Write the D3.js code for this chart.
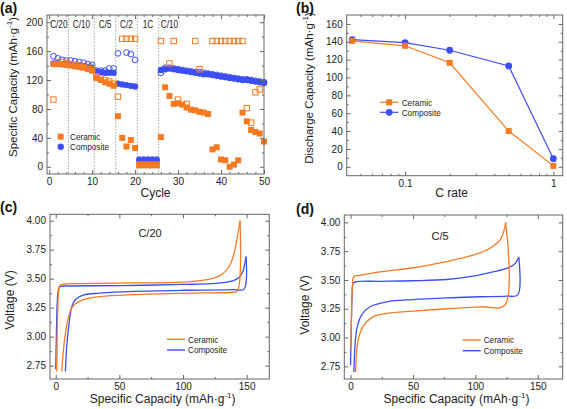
<!DOCTYPE html>
<html><head><meta charset="utf-8">
<script src="https://cdn.jsdelivr.net/npm/d3@7"></script>
<style>body{margin:0;background:#fff}svg{display:block;font-family:"Liberation Sans",Arial,sans-serif}</style>
</head><body><svg id="c" width="567" height="409"></svg>
<script>
// ---------- DATA ----------
// (a) cycling
const cycles = [1,2,3,4,5,6,7,8,9,10,11,12,13,14,15,16,17,18,19,20,21,22,23,24,25,26,27,28,29,30,31,32,33,34,35,36,37,38,39,40,41,42,43,44,45,46,47,48,49,50];
const ceramicDischarge = [142,142,142,141, 140,139,138,137,135,133, 123,120,117,115,112, 70,40,28,37,26, 2,2,2,2,2,
  41,110,98,87,88,86,82,79,78,76,75,73, 24,27,10,9,0,3,9, 75,63,51,48,46,35];
const ceramicCharge = [93,145,145,144, 142,141,140,138,137,135, 125,122,120,118,115, 97,177,177,177,177, 3,3,3,3,3,
  174,null,143,174,93,null,87,null,174,135,null,null, 174,174,174,174,174,174,174, 174,81,61,103,107,null];
const compositeDischarge = [143,143,142,142, 141,140,140,139,138,137, 132,131,130,130,130, 115,114,113,112,111, 9,9,9,9,9,
  134,135,136,135,134,133,132,131,130,129,128,128, 127,126,125,124,123,122,121, 120,120,119,118,117,116];
const compositeCharge = [153,150,148,147, 147,146,145,144,142,141, 133,133,133,136,136, 157,null,158,156,148, 10,10,10,10,10,
  130,137,137,136,135,134,133,132,131,131,130,129, 128,127,126,125,124,123,122, 121,121,120,119,118,117];
const rateBounds = [4.5,10.5,15.5,20.5,25.5];
const rateLabels = ["C/20","C/10","C/5","C/2","1C","C/10"];
const rateLabelCycles = [2.25,7.5,13,18,23,26];
const aXTicks = [0,10,20,30,40,50];
const aYTicks = [0,40,80,120,160,200];

// (b) rate capability
const cRates = [0.044,0.1,0.2,0.5,1];
const ceramicRate = [141,135.5,116.5,40,1];
const compositeRate = [142.5,139,130.5,113,9];
const bXTicks = [0.1,1];
const bYTicks = [0,20,40,60,80,100,120,140,160];

// (c) C/20 voltage profiles [capacity, voltage]
const ceramicC20Charge = [[0.8,2.70],[1.0,2.9],[1.5,3.2],[2.2,3.38],[3.2,3.44],[6,3.452],[20,3.457],[60,3.463],[99,3.47],[115,3.485],[124,3.505],[131,3.54],[137,3.62],[140.8,3.75],[143.3,3.9],[144.8,4.0]];
const ceramicC20Discharge = [[144.8,4.0],[142.8,3.395],[139,3.383],[120,3.378],[99,3.374],[61,3.362],[35,3.345],[22,3.32],[14,3.27],[11.3,3.215],[9,3.12],[7,2.98],[5.8,2.85],[4.7,2.70]];
const compositeC20Charge = [[0,2.72],[0.5,3.0],[1.2,3.3],[2.2,3.41],[3.5,3.432],[10,3.437],[50,3.44],[99,3.45],[126,3.46],[139,3.48],[144,3.51],[147,3.56],[148.5,3.63],[149.5,3.69]];
const compositeC20Discharge = [[149.5,3.69],[148,3.41],[140,3.405],[100,3.40],[61,3.39],[35,3.375],[22,3.36],[15.5,3.32],[12.7,3.26],[10.8,3.14],[8.8,2.94],[7.6,2.70]];
// (d) C/5 voltage profiles
const ceramicC5Charge = [[0.3,2.90],[0.8,3.2],[1.6,3.45],[2.7,3.53],[7.5,3.54],[23.5,3.57],[50,3.606],[77,3.66],[93,3.70],[106,3.745],[114,3.79],[120,3.85],[123,3.93],[124.3,4.0]];
const ceramicC5Discharge = [[124.3,4.0],[123.5,3.28],[104,3.267],[77,3.25],[50,3.23],[29,3.21],[18,3.18],[11.5,3.12],[7.5,3.035],[5.3,2.92],[4,2.70]];
const compositeC5Charge = [[0,2.76],[0.6,3.1],[1.3,3.38],[2.1,3.47],[4.8,3.485],[23.5,3.488],[50,3.493],[77,3.504],[98,3.533],[114,3.57],[125,3.60],[130.5,3.63],[133,3.66],[134.8,3.70]];
const compositeC5Discharge = [[134.8,3.70],[134,3.37],[125,3.36],[104,3.354],[77,3.345],[50,3.33],[29,3.31],[15.5,3.267],[8.8,3.195],[5.3,3.09],[3.7,2.95],[2.7,2.70]];
const vXTicks = [0,50,100,150];
const vYTicks = [2.75,3.00,3.25,3.50,3.75,4.00];

// ---------- DRAW ----------
const svg = d3.select("#c");
const ORANGE = "#f57a22", BLUE = "#3b4ef2", AX = "#666", TXT = "#222";

function condense(sel, f) {
  sel.each(function(){ const L = this.getComputedTextLength(); d3.select(this).attr("textLength", L*f).attr("lengthAdjust","spacingAndGlyphs"); });
}
function axes(g, x, y, o) {
  const [x0,x1] = x.range(), [y1,y0] = y.range();
  const style = s => { s.select(".domain").remove(); s.selectAll("line").attr("stroke",AX);
    s.selectAll("text").attr("fill",TXT).attr("font-size",10).attr("font-family","Liberation Sans, Arial, sans-serif"); };
  g.append("g").attr("transform",`translate(0,${y1})`).call(d3.axisBottom(x).tickValues(o.xt).tickFormat(o.xf||null).tickSizeInner(-4).tickSizeOuter(0).tickPadding(4)).call(style);
  g.append("g").attr("transform",`translate(0,${y1})`).call(d3.axisBottom(x).tickValues(o.xm).tickFormat("").tickSizeInner(-2).tickSizeOuter(0)).call(style);
  g.append("g").attr("transform",`translate(0,${y0})`).call(d3.axisTop(x).tickValues(o.xt).tickFormat("").tickSizeInner(-4).tickSizeOuter(0)).call(style);
  g.append("g").attr("transform",`translate(0,${y0})`).call(d3.axisTop(x).tickValues(o.xm).tickFormat("").tickSizeInner(-2).tickSizeOuter(0)).call(style);
  g.append("g").attr("transform",`translate(${x0},0)`).call(d3.axisLeft(y).tickValues(o.yt).tickFormat(o.yf||null).tickSizeInner(-4).tickSizeOuter(0).tickPadding(4)).call(style);
  g.append("g").attr("transform",`translate(${x0},0)`).call(d3.axisLeft(y).tickValues(o.ym).tickFormat("").tickSizeInner(-2).tickSizeOuter(0)).call(style);
  g.append("g").attr("transform",`translate(${x1},0)`).call(d3.axisRight(y).tickValues(o.yt).tickFormat("").tickSizeInner(-4).tickSizeOuter(0)).call(style);
  g.append("g").attr("transform",`translate(${x1},0)`).call(d3.axisRight(y).tickValues(o.ym).tickFormat("").tickSizeInner(-2).tickSizeOuter(0)).call(style);
  g.append("rect").attr("x",x0).attr("y",y0).attr("width",x1-x0).attr("height",y1-y0).attr("fill","none").attr("stroke",AX).attr("stroke-width",1);
}
function supLabel(g, x, y, pre, sup, post, rotate, size) {
  const t = g.append("text").attr("font-size",size||12).attr("fill",TXT).attr("text-anchor","middle")
    .attr("transform", rotate ? `translate(${x},${y}) rotate(-90)` : `translate(${x},${y})`);
  t.append("tspan").text(pre);
  if (sup) { t.append("tspan").attr("font-size",8).attr("dy",-5).text(sup); t.append("tspan").attr("dy",5).text(post); }
}
function panelLabel(x,y,s){ svg.append("text").attr("x",x).attr("y",y).attr("font-size",14).attr("font-weight","bold").attr("fill","#111").text(s); }
function square(g, cx, cy, s, filled, col) {
  g.append("rect").attr("x",cx-s/2).attr("y",cy-s/2).attr("width",s).attr("height",s)
   .attr("fill", filled?col:"#fff").attr("fill-opacity", filled?1:0).attr("stroke",col).attr("stroke-width",filled?0:1);
}
function circle(g, cx, cy, r, filled, col) {
  g.append("circle").attr("cx",cx).attr("cy",cy).attr("r",r)
   .attr("fill", filled?col:"none").attr("stroke",col).attr("stroke-width",filled?0:1);
}
function legText(g, x, y, s) {
  g.append("text").attr("x",x).attr("y",y).attr("font-size",9.5).attr("fill",TXT).text(s).call(condense,0.86);
}

// ===== (a) =====
{
  const g = svg.append("g");
  const x = d3.scaleLinear().domain([-0.5,50]).range([47,264]);
  const y = d3.scaleLinear().domain([-10,210]).range([174,15]);
  rateBounds.forEach(b => g.append("line").attr("x1",x(b)).attr("x2",x(b)).attr("y1",y.range()[1]).attr("y2",y.range()[0])
     .attr("stroke","#8a8f9c").attr("stroke-width",0.8).attr("stroke-dasharray","1.5,1.5"));
  rateLabels.forEach((l,i) => g.append("text").attr("x",x(rateLabelCycles[i])).attr("y",27.5)
     .attr("text-anchor", i===5?"start":"middle").attr("font-size",10.5).attr("fill",TXT).text(l).call(condense,0.78));
  cycles.forEach((c,i)=>{ if(compositeCharge[i]!=null) circle(g,x(c),y(compositeCharge[i]),2.9,false,BLUE); });
  cycles.forEach((c,i)=>{ if(compositeDischarge[i]!=null) circle(g,x(c),y(compositeDischarge[i]),3.2,true,BLUE); });
  cycles.forEach((c,i)=>{ if(ceramicCharge[i]!=null) square(g,x(c),y(ceramicCharge[i]),5.4,false,ORANGE); });
  cycles.forEach((c,i)=>{ if(ceramicDischarge[i]!=null) square(g,x(c),y(ceramicDischarge[i]),6,true,ORANGE); });
  axes(g,x,y,{xt:aXTicks, xm:[2,4,6,8,12,14,16,18,22,24,26,28,32,34,36,38,42,44,46,48], yt:aYTicks, ym:[20,60,100,140,180]});
  square(g,60.7,136.7,6,true,ORANGE);
  circle(g,60.7,146.7,3.2,true,BLUE);
  legText(g,70,140,"Ceramic");
  legText(g,70,150,"Composite");
  g.append("text").attr("x",155.5).attr("y",197).attr("text-anchor","middle").attr("font-size",12).attr("fill",TXT).text("Cycle");
  supLabel(g,17,87,"Specific Capacity (mAh·g","-1",")",true,11.5);
  panelLabel(0,13,"(a)");
}

// ===== (b) =====
{
  const g = svg.append("g");
  const x = d3.scaleLog().domain([0.0404,1.156]).range([346.7,562.7]);
  const y = d3.scaleLinear().domain([-10,170]).range([175.7,15]);
  const line = d3.line().x(d=>x(d[0])).y(d=>y(d[1]));
  const cer = cRates.map((r,i)=>[r,ceramicRate[i]]);
  const com = cRates.map((r,i)=>[r,compositeRate[i]]);
  g.append("path").attr("d",line(com)).attr("fill","none").attr("stroke",BLUE).attr("stroke-width",1.2);
  g.append("path").attr("d",line(cer)).attr("fill","none").attr("stroke",ORANGE).attr("stroke-width",1.2);
  com.forEach(d=>circle(g,x(d[0]),y(d[1]),3.4,true,BLUE));
  cer.forEach(d=>square(g,x(d[0]),y(d[1]),6,true,ORANGE));
  axes(g,x,y,{xt:bXTicks, xf:d=>d===1?"1":"0.1", xm:[0.05,0.06,0.07,0.08,0.09,0.2,0.3,0.4,0.5,0.6,0.7,0.8,0.9], yt:bYTicks, ym:[10,30,50,70,90,110,130,150]});
  g.append("line").attr("x1",380).attr("x2",398.3).attr("y1",102.3).attr("y2",102.3).attr("stroke",ORANGE).attr("stroke-width",1.2);
  square(g,389.2,102.3,6,true,ORANGE);
  g.append("line").attr("x1",380).attr("x2",398.3).attr("y1",112.3).attr("y2",112.3).attr("stroke",BLUE).attr("stroke-width",1.2);
  circle(g,389.2,112.3,3.4,true,BLUE);
  legText(g,401.7,105.6,"Ceramic");
  legText(g,401.7,115.6,"Composite");
  g.append("text").attr("x",451.7).attr("y",197).attr("text-anchor","middle").attr("font-size",12).attr("fill",TXT).text("C rate");
  supLabel(g,313,88,"Discharge Capacity (mAh·g","-1",")",true,11.5);
  panelLabel(296,13,"(b)");
}

// ===== (c) and (d) =====
function voltagePanel(rect, xd, yd, series, rateText, rtPos, legPos, lblPos) {
  const g = svg.append("g");
  const x = d3.scaleLinear().domain(xd).range([rect[0],rect[1]]);
  const y = d3.scaleLinear().domain(yd).range([rect[3],rect[2]]);
  const line = d3.line().x(d=>x(d[0])).y(d=>y(d[1])).curve(d3.curveCatmullRom.alpha(0.5));
  series.forEach(s => {
    g.append("path").attr("d",line(s.charge)).attr("fill","none").attr("stroke",s.col).attr("stroke-width",1.3);
    g.append("path").attr("d",line(s.discharge)).attr("fill","none").attr("stroke",s.col).attr("stroke-width",1.3);
  });
  axes(g,x,y,{xt:vXTicks, xm:[25,75,125], yt:vYTicks, yf:d3.format(".2f"), ym:[2.875,3.125,3.375,3.625,3.875]});
  g.append("text").attr("x",rtPos[0]).attr("y",rtPos[1]).attr("text-anchor","middle").attr("font-size",11).attr("fill",TXT).text(rateText);
  [["Ceramic",ORANGE],["Composite",BLUE]].forEach((l,i)=>{
    const yy = legPos[1]+i*10.7;
    g.append("line").attr("x1",legPos[0]).attr("x2",legPos[0]+18).attr("y1",yy).attr("y2",yy).attr("stroke",l[1]).attr("stroke-width",1.4);
    legText(g,legPos[0]+21,yy+3.4,l[0]);
  });
  g.append("text").attr("x",(rect[0]+rect[1])/2+3).attr("y",403).attr("text-anchor","middle").attr("font-size",12).attr("fill",TXT)
    .call(t=>{ t.append("tspan").text("Specific Capacity (mAh·g"); t.append("tspan").attr("font-size",8).attr("dy",-5).text("-1"); t.append("tspan").attr("dy",5).text(")"); });
  g.append("text").attr("transform",`translate(${lblPos[0]},${lblPos[1]}) rotate(-90)`).attr("text-anchor","middle").attr("font-size",12).attr("fill",TXT).text("Voltage (V)");
}
voltagePanel([50,269.3,214.3,379],[-4.5,167.8],[2.635,4.055],
  [{charge:compositeC20Charge,discharge:compositeC20Discharge,col:BLUE},{charge:ceramicC20Charge,discharge:ceramicC20Discharge,col:ORANGE}],
  "C/20",[150,237],[167,339.3],[14,300]);
voltagePanel([344.3,562.7,215,379],[-5,170],[2.64,4.064],
  [{charge:compositeC5Charge,discharge:compositeC5Discharge,col:BLUE},{charge:ceramicC5Charge,discharge:ceramicC5Discharge,col:ORANGE}],
  "C/5",[440,240],[462.7,340],[309,305]);
panelLabel(0,212,"(c)");
panelLabel(296,214,"(d)");
</script></body></html>
